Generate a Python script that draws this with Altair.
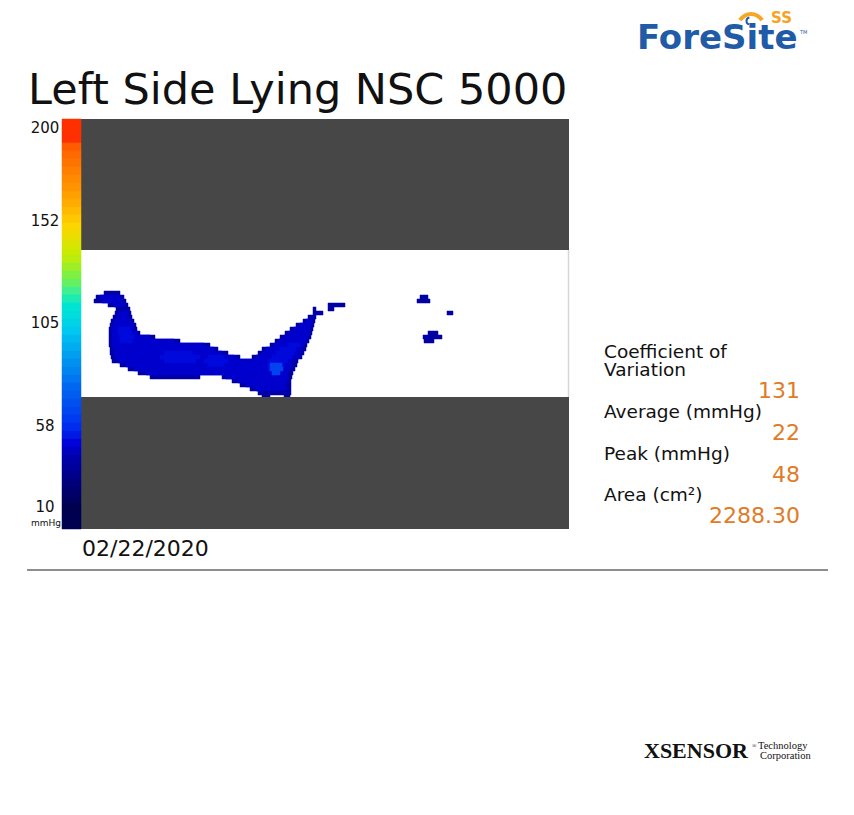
import altair as alt
import pandas as pd

# ---------------- text content ----------------
title_text = "Left Side Lying NSC 5000"
date_text = "02/22/2020"
scale_ticks = ["200", "152", "105", "58", "10"]
scale_tick_rows = [2.25, 25.5, 51.0, 76.75, 97.0]
scale_unit = "mmHg"
stat_labels = ["Coefficient of", "Variation", "Average (mmHg)", "Peak (mmHg)", "Area (cm\u00b2)"]
stat_values = ["131", "22", "48", "2288.30"]

# ---------------- colour scale (mmHg -> colour) ----------------
press_stops = [10, 20, 38, 47, 58, 73, 88, 101, 113, 120, 127, 137, 150, 163, 178, 189, 200]
press_colors = ["#000050", "#000070", "#0000A8", "#0000D8", "#0030F0", "#0060F0", "#0098F0",
                "#00C8F0", "#00E8D0", "#40F090", "#80F040", "#C8EC00", "#FFD400", "#FFA400",
                "#FF8000", "#FF6000", "#FF3000"]

# colour bar levels, top band first
cb_levels = [200, 190, 186, 182, 178, 174, 170, 165, 161, 157, 153,
             149, 146, 142, 138, 135, 131, 127, 124, 120, 116,
             112, 109, 105, 101, 97, 94, 90, 86, 83, 79,
             75, 72, 68, 65, 61, 57, 53, 48, 43, 38,
             34, 29, 24, 19, 15, 10, 10, 10]

# ---------------- pressure map (sensor row, first column, last column) ----------------
edge_level = 37
edge_runs = [
    (43, 6, 10), (44, 4, 11), (45, 3.5, 11.5), (46, 7, 12), (47, 9, 12.5), (48, 8.75, 12.75),
    (49, 8.25, 13), (50, 7.75, 13.5), (51, 7.5, 14), (52, 7.25, 14.25), (53, 7.25, 15),
    (54, 7.25, 18.75), (55, 7.25, 25), (56, 7.25, 32.5), (57, 7.5, 34.5), (58, 7.5, 37),
    (59, 7.75, 40), (60, 8, 54.5), (61, 10, 54.25), (62, 12, 53.75), (63, 14.5, 53.25),
    (64, 17.5, 30), (64, 35.5, 53), (65, 38, 52.75), (66, 40, 52.75), (67, 42.5, 52.75),
    (68, 44.5, 52.75), (69, 45.5, 47.5), (69, 51, 52.5),
    (47, 58.25, 59), (48, 58.25, 60.75), (49, 57, 59), (50, 55.75, 58.75), (51, 54, 58.5),
    (52, 52.5, 58.25), (53, 51.25, 58), (54, 50, 57.75), (55, 48.75, 57.25), (56, 47.5, 56.75),
    (57, 45.5, 56.5), (58, 44.5, 56), (59, 43, 55.5),
    (46, 62, 66.25), (47, 62, 63.5),
    (44, 85, 87), (45, 84.25, 87.5),
    (48, 91.75, 93.25),
    (53, 87, 89.5), (54, 85.75, 90.5), (55, 86, 88.5),
]
body_level = 45
body_runs = [
    (44, 5, 10), (45, 5.5, 10.5), (46, 8.5, 11), (48, 9.75, 12), (49, 9.25, 12.25),
    (50, 8.5, 12.75), (51, 8.25, 13.25), (52, 8, 13.5), (53, 8, 14.25), (54, 8, 17.5),
    (55, 8, 23.5), (56, 8, 31), (57, 8.5, 33.5), (58, 8.5, 35.5), (59, 8.75, 38.5),
    (60, 9.5, 53), (61, 11.5, 53), (62, 13.5, 52.5), (63, 16.5, 52), (64, 36.5, 52),
    (65, 39.5, 51.75), (66, 41.5, 51.5), (67, 44, 51.5),
    (50, 56.5, 58), (51, 55, 57.75), (52, 53.5, 57.5), (53, 52.25, 57.25), (54, 51, 57),
    (55, 49.75, 56.5), (56, 48.5, 56), (57, 46.5, 55.5), (58, 45.5, 55), (59, 44, 54.75),
]
bright_level = 49
bright_runs = [
    (52, 9.5, 12.5), (53, 9.5, 13), (54, 10, 13.5), (55, 10, 13),
    (58, 21, 28), (59, 20, 30), (60, 21, 29),
    (59, 32, 36), (60, 31, 37), (61, 32, 36),
    (56, 52, 55), (57, 50, 54), (58, 49, 53.5), (59, 48, 53), (60, 47, 52), (61, 47, 51), (62, 47, 50),
]
peak_level = 64
peak_runs = [(61, 47.5, 50.5), (62, 47.5, 50.75), (63, 48, 50)]

rows = []
for level, runs in [(edge_level, edge_runs), (body_level, body_runs),
                    (bright_level, bright_runs), (peak_level, peak_runs)]:
    for r, c0, c1 in runs:
        rows.append({"r": r, "r2": r + 1, "c0": c0, "c1": c1, "p": level})
heat_df = pd.DataFrame(rows)

cb_rows = []
for i, v in enumerate(cb_levels):
    if i == 0:
        t, b = 0, 6
    else:
        t, b = 6 + 2 * (i - 1), 8 + 2 * (i - 1)
    if i == len(cb_levels) - 1:
        b = 102.5
    cb_rows.append({"t": t, "b": b, "p": v})
cb_df = pd.DataFrame(cb_rows)

# ---------------- scales ----------------
xs = alt.Scale(domain=[0, 122.25], nice=False, zero=False)
ys = alt.Scale(domain=[0, 102.5], nice=False, zero=False, reverse=True)
cs = alt.Scale(domain=press_stops, range=press_colors, interpolate="rgb")

one = pd.DataFrame({"a": [0]})


def label(text, x, y, size, color="#111111", align="left", font="DejaVu Sans",
          weight="normal", baseline="middle"):
    return alt.Chart(pd.DataFrame({"t": [text]})).mark_text(
        align=align, baseline=baseline, fontSize=size, font=font,
        fontWeight=weight, color=color
    ).encode(x=alt.value(x), y=alt.value(y), text="t:N")


def box(x, x2, y, y2, color):
    return alt.Chart(one).mark_rect(color=color).encode(
        x=alt.value(x), x2=alt.value(x2), y=alt.value(y), y2=alt.value(y2))


heat = alt.Chart(heat_df).mark_rect(strokeWidth=0.5).encode(
    x=alt.X("c0:Q", scale=xs, axis=None), x2="c1",
    y=alt.Y("r:Q", scale=ys, axis=None), y2="r2",
    color=alt.Color("p:Q", scale=cs, legend=None),
    stroke=alt.Stroke("p:Q", scale=cs, legend=None),
)

colorbar = alt.Chart(cb_df).mark_rect(strokeWidth=0.5).encode(
    x=alt.value(-18), x2=alt.value(1),
    y=alt.Y("t:Q", scale=ys, axis=None), y2="b",
    color=alt.Color("p:Q", scale=cs, legend=None),
    stroke=alt.Stroke("p:Q", scale=cs, legend=None),
)

tick_df = pd.DataFrame({"t": scale_ticks, "row": scale_tick_rows})
ticks = alt.Chart(tick_df).mark_text(fontSize=15, font="DejaVu Sans", color="#111111",
                                      align="center", baseline="middle").encode(
    x=alt.value(-35), y=alt.Y("row:Q", scale=ys, axis=None), text="t:N")

gray = "#474747"
orange = "#E07B26"
layers = [
    heat,
    box(0, 489, 0, 131, gray),
    box(0, 489, 278, 410, gray),
    alt.Chart(one).mark_rule(color="#D6D6D6", strokeWidth=1.5).encode(
        x=alt.value(488.5), y=alt.value(131), y2=alt.value(278)),
    colorbar,
    ticks,
    label(scale_unit, -19, 404, 9, align="right"),
    label(title_text, -52, -15, 43, baseline="alphabetic"),
    label(date_text, 2, 430, 22),
    alt.Chart(one).mark_rule(color="#8E8E8E", strokeWidth=2).encode(
        x=alt.value(-53), x2=alt.value(748), y=alt.value(451)),
    # statistics
    label(stat_labels[0], 524, 233, 18.5),
    label(stat_labels[1], 524, 251, 18.5),
    label(stat_values[0], 720, 272, 22, color=orange, align="right"),
    label(stat_labels[2], 524, 293, 18.5),
    label(stat_values[1], 720, 314, 22, color=orange, align="right"),
    label(stat_labels[3], 524, 335, 18.5),
    label(stat_values[2], 720, 356, 22, color=orange, align="right"),
    label(stat_labels[4], 524, 376, 18.5),
    label(stat_values[3], 720, 397, 22, color=orange, align="right"),
    # ForeSite logo
    alt.Chart(one).mark_arc(radius=15, radius2=11, theta=5.27, theta2=7.30, color="#F5A623").encode(
        x=alt.value(671), y=alt.value(-92)),
    alt.Chart(one).mark_arc(radius=4.5, radius2=2.5, theta=3.4, theta2=6.1, color="#1F5BA6").encode(
        x=alt.value(670), y=alt.value(-98)),
    label("ForeSite", 557, -70, 34, color="#1F5BA6", weight="bold", baseline="alphabetic"),
    label("SS", 691, -96, 15, color="#F5A31F", weight="bold", baseline="alphabetic"),
    label("TM", 720, -87, 5, color="#1F5BA6"),
    # XSENSOR logo
    label("XSENSOR", 564, 639, 22, color="#111111", font="Liberation Serif", weight="bold",
          baseline="alphabetic"),
    label("\u00ae", 672, 627, 6, font="Liberation Serif"),
    label("Technology", 678, 630, 10.5, font="Liberation Serif", baseline="alphabetic"),
    label("Corporation", 680, 640, 10.5, font="Liberation Serif", baseline="alphabetic"),
]

chart = alt.layer(*layers).properties(
    width=489, height=410,
    padding={"left": 72, "top": 111, "right": 277, "bottom": 278},
    autosize=alt.AutoSizeParams(type="none"),
    background="#FFFFFF",
).configure_view(stroke=None)

chart.save("out.html", embed_options={"renderer": "svg", "actions": False})
